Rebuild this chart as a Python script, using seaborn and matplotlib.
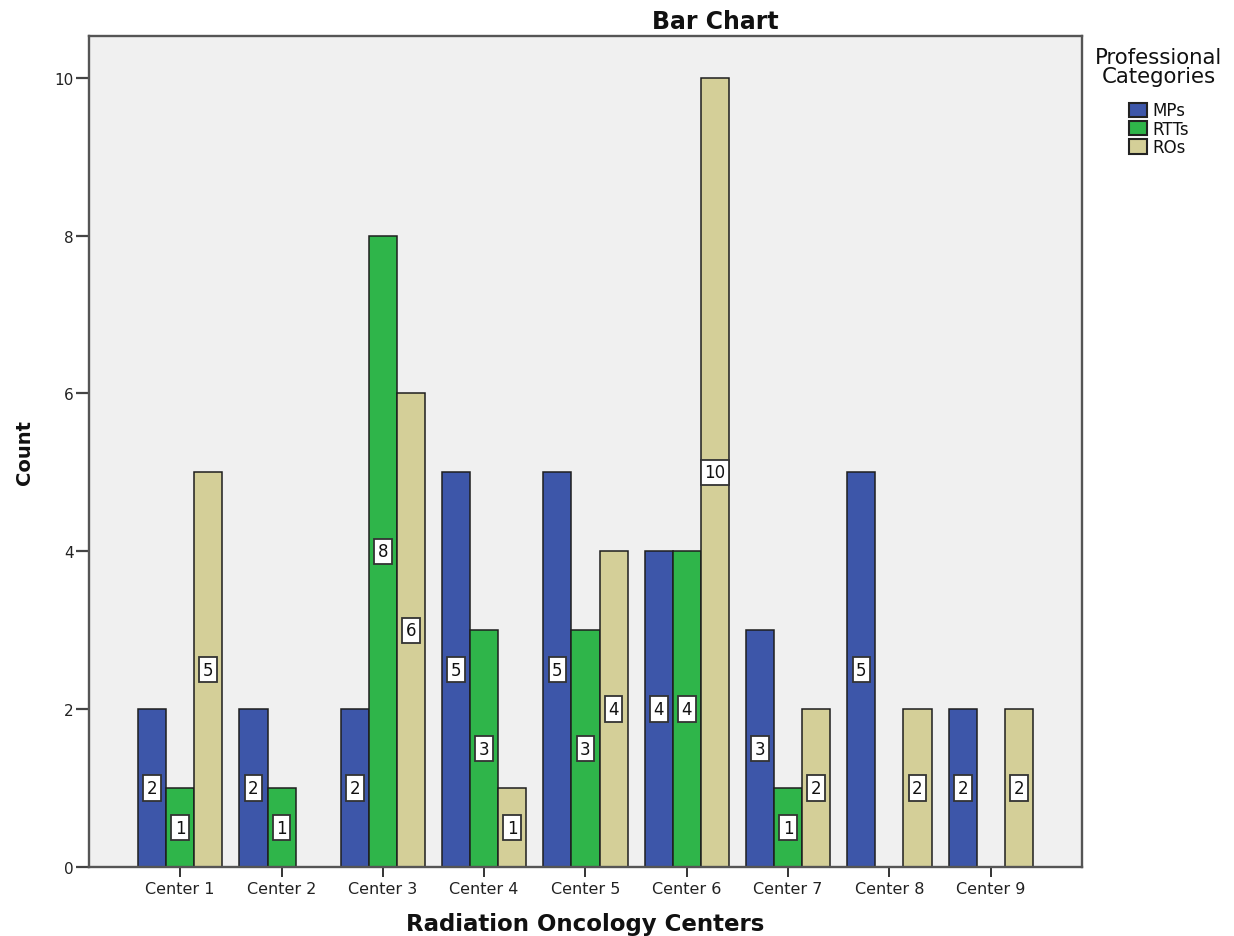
import matplotlib
matplotlib.use("Agg")
import matplotlib.pyplot as plt
from matplotlib.patches import Patch
import seaborn as sns
import pandas as pd

centers = ["Center 1", "Center 2", "Center 3", "Center 4", "Center 5",
           "Center 6", "Center 7", "Center 8", "Center 9"]
categories = ["MPs", "RTTs", "ROs"]
mps = [2, 2, 2, 5, 5, 4, 3, 5, 2]
rtts = [1, 1, 8, 3, 3, 4, 1, 0, 0]
ros = [5, 0, 6, 1, 4, 10, 2, 2, 2]
colors = ["#3D56A9", "#2FB54A", "#D4CF98"]

rows = []
for cat, vals in zip(categories, [mps, rtts, ros]):
    for c, v in zip(centers, vals):
        rows.append({"Center": c, "Category": cat, "Count": v})
df = pd.DataFrame(rows)

sns.set_style("white")
plt.rcParams["font.family"] = ["DejaVu Sans"]
plt.rcParams["text.color"] = "#111111"

W, H = 1234, 937
fig = plt.figure(figsize=(W / 100, H / 100), dpi=100)
ax = fig.add_axes([89 / W, 1 - 868 / H, (1082 - 89) / W, (868 - 37) / H])
ax.set_facecolor("#F0F0F0")

sns.barplot(data=df, x="Center", y="Count", hue="Category", order=centers,
            hue_order=categories, palette=colors, width=0.83, ax=ax,
            edgecolor="#1E1E1E", linewidth=1.1, saturation=1, errorbar=None,
            legend=False)

# value labels at half height of each bar
for container in ax.containers:
    for patch in container:
        h = patch.get_height()
        if h <= 0:
            continue
        x = patch.get_x() + patch.get_width() / 2
        ax.text(x, h / 2, f"{int(h)}", ha="center", va="center", fontsize=12,
                color="#111111",
                bbox=dict(boxstyle="square,pad=0.22", facecolor="white",
                          edgecolor="#333333", linewidth=1.3))

ax.set_xlim(-0.9, 8.9)
ax.set_ylim(0, 10.53)
ax.set_yticks([0, 2, 4, 6, 8, 10])
ax.tick_params(axis="y", left=True, length=9.5, width=1.6, color="#444444",
               labelsize=11, pad=1.5, labelcolor="#222222")
ax.tick_params(axis="x", bottom=True, length=7, width=1.4, color="#333333",
               labelsize=11.5, pad=3, labelcolor="#222222")
for s in ax.spines.values():
    s.set_color("#555555")
    s.set_linewidth(1.7)

ax.set_xlabel("Radiation Oncology Centers", fontsize=16.5, fontweight="bold",
              color="#111111")
ax.xaxis.set_label_coords(0.5, -0.054)
ax.set_ylabel("Count", fontsize=14, fontweight="bold", labelpad=15, color="#111111")
ax.set_title("Bar Chart", fontsize=17, fontweight="bold", color="#111111",
             x=(715 - 89) / (1082 - 89), y=1.0, pad=6)

# legend outside on the right
handles = [Patch(facecolor=c, edgecolor="#222222", linewidth=1.5) for c in colors]
leg = fig.legend(handles, categories, title="Professional\nCategories",
                 loc="upper left", bbox_to_anchor=(1095 / W, 1 - 48 / H),
                 frameon=False, fontsize=12, title_fontsize=15.3,
                 handlelength=1.1, handleheight=0.95, handletextpad=0.3,
                 labelspacing=0.02, borderaxespad=0, borderpad=0)
leg.get_title().set_multialignment("center")
leg.get_title().set_linespacing(0.95)
leg._legend_box.align = "center"
leg._legend_box.sep = 11

fig.savefig("out.png", dpi=100)
